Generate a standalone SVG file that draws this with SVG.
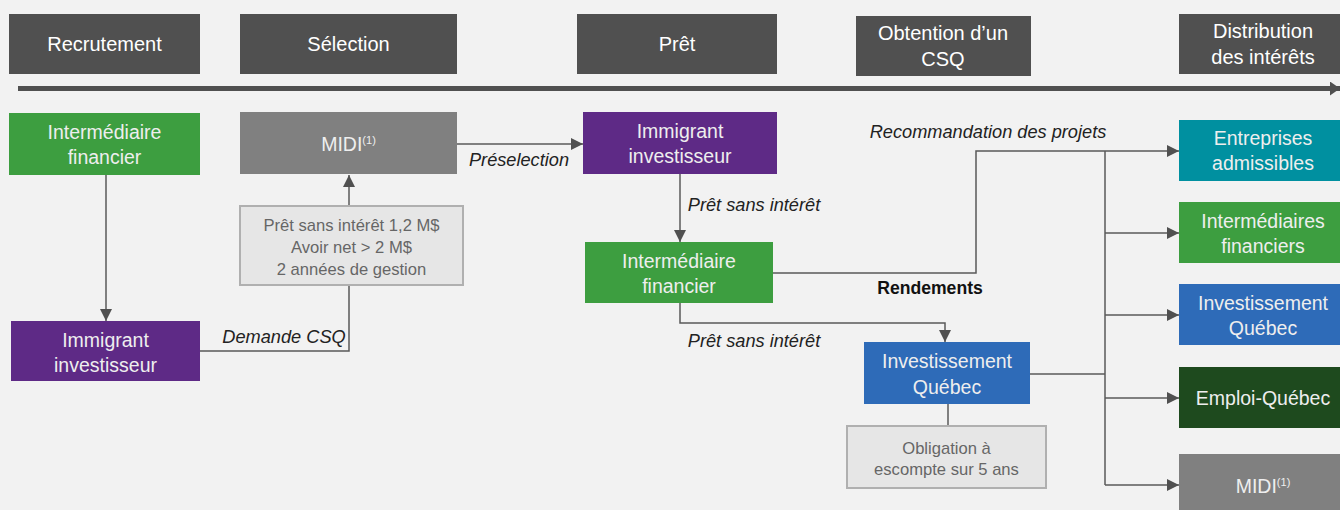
<svg xmlns="http://www.w3.org/2000/svg" width="1340" height="510" viewBox="0 0 1340 510">
<style>
text{font-family:"Liberation Sans",Arial,sans-serif;text-anchor:middle}
.hd{fill:#505050}
.ht{fill:#ffffff;font-size:20px}
.nt{fill:#eeeeee;font-size:19.5px}
.gt{fill:#666666;font-size:16.6px}
.lb{fill:#222222;font-size:18.2px;font-style:italic}
.cn{fill:none;stroke:#5a5a5a;stroke-width:1.5}
.green{fill:#3d9e40}.purple{fill:#5e2a86}.blue{fill:#2e6bb8}.teal{fill:#0090a0}.dkgreen{fill:#1e4a1e}.gray{fill:#808080}
.crit{fill:#e6e6e6;stroke:#b0b0b0;stroke-width:2}
</style>
<defs>
<marker id="ah" markerUnits="userSpaceOnUse" markerWidth="12" markerHeight="12" refX="12" refY="6" orient="auto">
<path d="M0,0 L12,6 L0,12 z" fill="#505050"/>
</marker>
<marker id="big" markerUnits="userSpaceOnUse" markerWidth="14" markerHeight="14" refX="10" refY="7" orient="auto">
<path d="M0,0 L10,7 L0,14 z" fill="#505050"/>
</marker>
</defs>
<rect width="1340" height="510" fill="#f2f2f2"/>

<g id="headers">
<g id="h-recrutement"><rect class="hd" x="9" y="14" width="191" height="60"/><text class="ht" x="104.5" y="51">Recrutement</text></g>
<g id="h-selection"><rect class="hd" x="240" y="14" width="217" height="60"/><text class="ht" x="348.5" y="51">Sélection</text></g>
<g id="h-pret"><rect class="hd" x="577" y="14" width="200" height="60"/><text class="ht" x="677" y="51">Prêt</text></g>
<g id="h-csq"><rect class="hd" x="856" y="16" width="175" height="60"/><text class="ht" x="943" y="40">Obtention d’un</text><text class="ht" x="943" y="66">CSQ</text></g>
<g id="h-distribution"><rect class="hd" x="1179" y="14" width="161" height="60"/><text class="ht" x="1263" y="38">Distribution</text><text class="ht" x="1263" y="64">des intérêts</text></g>
</g>

<g id="connectors">
<line x1="18" y1="88.5" x2="1340" y2="88.5" stroke="#505050" stroke-width="5" marker-end="url(#big)"/>
<line class="cn" x1="106" y1="175" x2="106" y2="321" marker-end="url(#ah)"/>
<polyline class="cn" points="200,351 349,351 349,285"/>
<line class="cn" x1="349" y1="206" x2="349" y2="175" marker-end="url(#ah)"/>
<line class="cn" x1="457" y1="144" x2="583" y2="144" marker-end="url(#ah)"/>
<line class="cn" x1="680" y1="174" x2="680" y2="242" marker-end="url(#ah)"/>
<polyline class="cn" points="773,273 976,273 976,151 1179,151" marker-end="url(#ah)"/>
<polyline class="cn" points="680,303 680,323 945,323 945,342" marker-end="url(#ah)"/>
<line class="cn" x1="948" y1="404" x2="948" y2="426"/>
<line class="cn" x1="1030" y1="374" x2="1105" y2="374"/>
<line class="cn" x1="1105" y1="151" x2="1105" y2="485"/>
<line class="cn" x1="1105" y1="233" x2="1179" y2="233" marker-end="url(#ah)"/>
<line class="cn" x1="1105" y1="315" x2="1179" y2="315" marker-end="url(#ah)"/>
<line class="cn" x1="1105" y1="398" x2="1179" y2="398" marker-end="url(#ah)"/>
<line class="cn" x1="1105" y1="485" x2="1179" y2="485" marker-end="url(#ah)"/>
<text class="lb" x="284" y="343">Demande CSQ</text>
<text class="lb" x="519" y="166">Préselection</text>
<text class="lb" x="754" y="211">Prêt sans intérêt</text>
<text class="lb" x="754" y="347">Prêt sans intérêt</text>
<text class="lb" x="988" y="138">Recommandation des projets</text>
<text x="930" y="294" style="font-size:17.6px;font-weight:bold;fill:#111">Rendements</text>
</g>

<g id="n-intermediaire-1"><rect class="green" x="9" y="113" width="191" height="62"/><text class="nt" x="104.5" y="139">Intermédiaire</text><text class="nt" x="104.5" y="164">financier</text></g>
<g id="n-midi-1"><rect class="gray" x="240" y="112" width="217" height="62"/><text class="nt" x="348.5" y="151">MIDI<tspan style="font-size:11px" dy="-7">(1)</tspan></text></g>
<g id="n-criteres"><rect class="crit" x="240" y="206" width="223" height="79"/><text class="gt" x="351.5" y="231">Prêt sans intérêt 1,2 M$</text><text class="gt" x="351.5" y="253">Avoir net &gt; 2 M$</text><text class="gt" x="351.5" y="275">2 années de gestion</text></g>
<g id="n-immigrant-1"><rect class="purple" x="11" y="321" width="189" height="60"/><text class="nt" x="105.5" y="347">Immigrant</text><text class="nt" x="105.5" y="372">investisseur</text></g>
<g id="n-immigrant-2"><rect class="purple" x="583" y="112" width="194" height="62"/><text class="nt" x="680" y="138">Immigrant</text><text class="nt" x="680" y="163">investisseur</text></g>
<g id="n-intermediaire-2"><rect class="green" x="585" y="242" width="188" height="61"/><text class="nt" x="679" y="268">Intermédiaire</text><text class="nt" x="679" y="293">financier</text></g>
<g id="n-iq-1"><rect class="blue" x="864" y="342" width="166" height="62"/><text class="nt" x="947" y="368">Investissement</text><text class="nt" x="947" y="394">Québec</text></g>
<g id="n-obligation"><rect class="crit" x="847" y="426" width="199" height="62"/><text class="gt" x="946.5" y="454">Obligation à</text><text class="gt" x="946.5" y="475">escompte sur 5 ans</text></g>
<g id="n-entreprises"><rect class="teal" x="1179" y="120" width="161" height="61"/><text class="nt" x="1263" y="145">Entreprises</text><text class="nt" x="1263" y="170">admissibles</text></g>
<g id="n-intermediaires"><rect class="green" x="1179" y="202" width="161" height="61"/><text class="nt" x="1263" y="228">Intermédiaires</text><text class="nt" x="1263" y="253">financiers</text></g>
<g id="n-iq-2"><rect class="blue" x="1179" y="284" width="161" height="61"/><text class="nt" x="1263" y="310">Investissement</text><text class="nt" x="1263" y="335">Québec</text></g>
<g id="n-emploi"><rect class="dkgreen" x="1179" y="367" width="161" height="61"/><text class="nt" x="1263" y="405">Emploi-Québec</text></g>
<g id="n-midi-2"><rect class="gray" x="1179" y="454" width="161" height="56"/><text class="nt" x="1263" y="493">MIDI<tspan style="font-size:11px" dy="-7">(1)</tspan></text></g>
</svg>
